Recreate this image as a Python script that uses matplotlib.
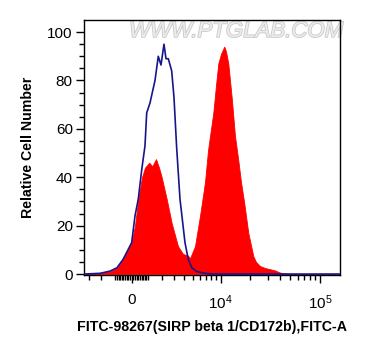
import numpy as np
import matplotlib
matplotlib.use("Agg")
import matplotlib.pyplot as plt
import matplotlib.patheffects as pe

plt.rcParams["font.family"] = ["Liberation Sans", "DejaVu Sans"]
plt.rcParams["mathtext.fontset"] = "custom"
plt.rcParams["mathtext.rm"] = "Liberation Sans"

# display channel (0-256) and relative cell number
ctrl_ch = [0, 16, 26, 33, 39, 44, 47.7, 51, 54.3, 57.7, 61, 62.7, 66, 71, 74.3, 77, 80, 82,
           84.3, 87.7, 90, 92.7, 96, 101, 104.3, 108, 113, 121, 128, 256]
ctrl_val = [0, 0.3, 1.2, 2.6, 6, 10, 13, 24, 31, 43, 53, 66.6, 70.7, 80, 90, 86.4, 95, 89,
            89, 84, 73, 52, 31, 13, 6, 2.5, 1, 0.3, 0, 0]

stain_ch = [0, 16, 26, 33, 39, 44, 47.7, 51, 54, 58, 61, 65.3, 68.3, 72, 75, 77.7, 82.7,
            87.7, 94, 99, 104, 106, 111, 116, 121, 124, 126, 129.3, 132, 134.3, 137, 140.3,
            142, 144.3, 147.7, 151, 154.3, 157, 160, 164.3, 169.3, 172, 176, 181, 186, 191,
            196, 206, 256]
stain_val = [0, 0.3, 1, 2.5, 6, 10, 13, 20, 30, 40, 44, 46, 44.5, 47.5, 44, 40, 31,
             21, 11.5, 8.3, 7.6, 6.5, 11.5, 24, 38, 51, 57, 66.6, 78, 87, 91, 94,
             92, 87, 73, 57, 47, 38, 30, 17, 7.4, 5, 3.3, 2.5, 2, 1.5,
             0.6, 0, 0]

x_major = [0, 1e4, 1e5]
x_major_labels = ["0", r"$\mathregular{10^4}$", r"$\mathregular{10^5}$"]
x_minor = ([-3000, -2000, -1000] + list(range(-900, 0, 100)) + list(range(100, 1000, 100))
           + list(range(1000, 10000, 1000)) + list(range(20000, 100000, 10000)) + [2e5])


def to_channel(v):
    # biexponential-like display transform
    return 47.7 + 43.43 * np.arcsinh(np.asarray(v, dtype=float) / 2620.0)


fig = plt.figure(figsize=(3.69, 3.56), dpi=100)
ax = fig.add_axes([0.2276, 0.2275, 0.6938, 0.7163])

ax.fill_between(stain_ch, stain_val, 0, color="#ff0000", lw=0.6, zorder=2)
ax.plot(ctrl_ch, ctrl_val, color="#16168c", lw=1.2, zorder=3)

ax.set_xlim(0, 256)
ax.set_ylim(-0.4, 105)

ax.set_xticks(to_channel(x_major))
ax.set_xticklabels(x_major_labels)
minor = to_channel(x_minor)
ax.set_xticks(minor[(minor > 0) & (minor < 256)], minor=True)
ax.set_yticks(np.arange(0, 101, 20))
ax.set_yticks(np.arange(0, 105, 5), minor=True)

ax.tick_params(axis="both", which="major", direction="out", length=6, width=1,
               labelsize=11, colors="black")
ax.tick_params(axis="both", which="minor", direction="out", length=3.5, width=1)
ax.tick_params(axis="x", which="major", pad=7)
ax.tick_params(axis="y", which="major", pad=2)
for s in ax.spines.values():
    s.set_linewidth(1)

ax.set_xlabel("FITC-98267(SIRP beta 1/CD172b),FITC-A", fontsize=10.2, fontweight="bold",
              labelpad=6)
ax.set_ylabel("Relative Cell Number", fontsize=10.2, fontweight="bold", labelpad=9)

ax.text(0.595, 0.955, "WWW.PTGLAB.COM", transform=ax.transAxes, ha="center", va="center",
        fontsize=16, fontstyle="italic", color="#ececec", zorder=1,
        path_effects=[pe.withStroke(linewidth=1.2, foreground="#c9c9c9")])

fig.savefig("out.png", dpi=100)
